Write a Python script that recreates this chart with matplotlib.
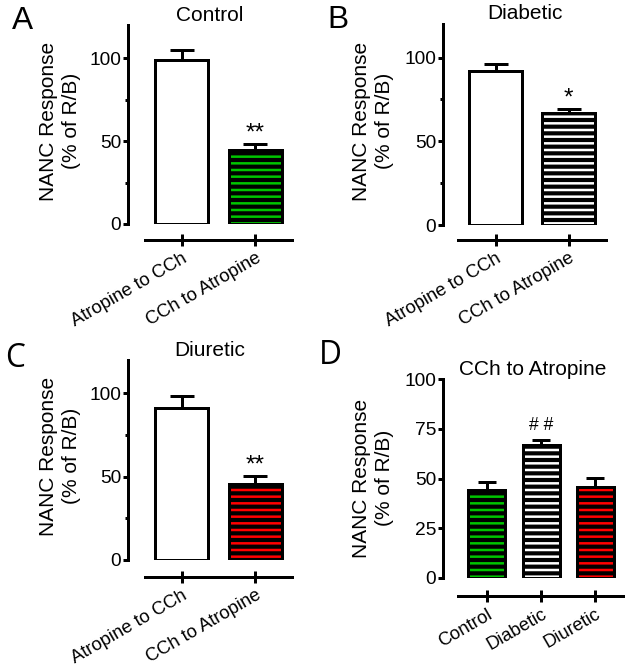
import matplotlib
matplotlib.use("Agg")
import matplotlib.pyplot as plt
from matplotlib.ticker import FixedLocator

# ---------------- data ----------------
groups_ab = ["Atropine to CCh", "CCh to Atropine"]
control_vals = [98.8, 44.4]
control_err = [6.2, 4.0]
diabetic_vals = [91.8, 66.7]
diabetic_err = [4.6, 2.6]
diuretic_vals = [91.0, 45.7]
diuretic_err = [7.4, 4.5]

groups_d = ["Control", "Diabetic", "Diuretic"]
d_vals = [44.4, 66.7, 45.7]
d_err = [4.0, 2.6, 4.5]

titles = ["Control", "Diabetic", "Diuretic", "CCh to Atropine"]
letters = ["A", "B", "C", "D"]
sig_a, sig_b, sig_c = "**", "*", "**"
sig_d = ["", "# #", ""]

GREEN = "#00c400"
RED = "#ff0000"
WHITE = "#ffffff"

# ---------------- style ----------------
DPI = 120
W, H = 629, 668
plt.rcParams["font.family"] = ["Liberation Sans", "DejaVu Sans"]
plt.rcParams["hatch.linewidth"] = 1.5
LW = 1.8

fig = plt.figure(figsize=(W / DPI, H / DPI), dpi=DPI)


def ax_at(left, top, right, bottom):
    return fig.add_axes([left / W, 1 - bottom / H, (right - left) / W, (bottom - top) / H])


def style(ax, xlim, xb, ylim, majors, minors, out_pt):
    ax.set_xlim(*xlim)
    ax.set_ylim(*ylim)
    for s in ("top", "right"):
        ax.spines[s].set_visible(False)
    ax.spines["left"].set_linewidth(LW)
    ax.spines["bottom"].set_linewidth(LW)
    ax.spines["bottom"].set_position(("outward", out_pt))
    ax.spines["bottom"].set_bounds(*xb)
    ax.spines["left"].set_bounds(*ylim)
    ax.yaxis.set_major_locator(FixedLocator(majors))
    ax.yaxis.set_minor_locator(FixedLocator(minors))
    ax.tick_params(axis="y", which="major", length=3.2, width=LW, pad=1.0, labelsize=11.5)
    ax.tick_params(axis="y", which="minor", length=2.0, width=LW)
    ax.tick_params(axis="x", direction="inout", length=7, width=LW, pad=2.5, labelsize=11)
    ax.patch.set_alpha(0)


def draw_bars(ax, labels, vals, errs, fills, width, capsize):
    xs = list(range(len(vals)))
    for x, v, f in zip(xs, vals, fills):
        if f is None:
            ax.bar(x, v, width=width, facecolor="white", edgecolor="black", linewidth=LW, zorder=2)
        else:
            ax.bar(x, v, width=width, facecolor="black", edgecolor=f, hatch="---", linewidth=0, zorder=2)
            ax.bar(x, v, width=width, facecolor="none", edgecolor="black", linewidth=LW, zorder=3)
    ax.errorbar(xs, vals, yerr=[[0] * len(errs), errs], fmt="none", ecolor="black",
                elinewidth=LW, capsize=capsize, capthick=LW, zorder=1)
    ax.set_xticks(xs)
    ax.set_xticklabels(labels, rotation=30, ha="right", rotation_mode="anchor")
    return xs


def ylabel(x, y):
    fig.text(x / W, 1 - y / H, "NANC Response\n(% of R/B)", rotation=90, ha="center",
             va="center", multialignment="center", fontsize=12.5, linespacing=1.25)


# Panel A
axA = ax_at(128, 25, 292, 224)
style(axA, (-0.73, 1.5), (-0.5, 1.5), (0, 120), [0, 50, 100], [25, 75], 9.6)
draw_bars(axA, groups_ab, control_vals, control_err, [None, GREEN], 0.72, 7)
axA.annotate(sig_a, (1, control_vals[1] + control_err[1]), xytext=(0, 2.6),
             textcoords="offset points", ha="center", va="baseline", fontsize=14.5)
axA.set_title(titles[0], fontsize=12.5, pad=2.6)
ylabel(60, 121)

# Panel B
axB = ax_at(443, 24, 606, 225)
style(axB, (-0.72, 1.51), (-0.51, 1.51), (0, 120), [0, 50, 100], [25, 75], 9.0)
draw_bars(axB, groups_ab, diabetic_vals, diabetic_err, [None, WHITE], 0.72, 7)
axB.annotate(sig_b, (1, diabetic_vals[1] + diabetic_err[1]), xytext=(0, 2.6),
             textcoords="offset points", ha="center", va="baseline", fontsize=14.5)
axB.set_title(titles[1], fontsize=12.5, pad=3.2)
ylabel(373, 121)

# Panel C
axC = ax_at(128, 360, 292, 560)
style(axC, (-0.73, 1.5), (-0.5, 1.5), (0, 120), [0, 50, 100], [25, 75], 10.2)
draw_bars(axC, groups_ab, diuretic_vals, diuretic_err, [None, RED], 0.72, 7)
axC.annotate(sig_c, (1, diuretic_vals[1] + diuretic_err[1]), xytext=(0, 2.6),
             textcoords="offset points", ha="center", va="baseline", fontsize=14.5)
axC.set_title(titles[2], fontsize=12.5, pad=1.4)
ylabel(60, 456)

# Panel D
axD = ax_at(443, 379, 623, 578)
style(axD, (-0.81, 2.51), (-0.53, 2.51), (0, 100), [0, 25, 50, 75, 100], [], 10.8)
draw_bars(axD, groups_d, d_vals, d_err, [GREEN, WHITE, RED], 0.68, 5.6)
for i, s in enumerate(sig_d):
    if s:
        axD.annotate(s, (i, d_vals[i] + d_err[i]), xytext=(0, 6),
                     textcoords="offset points", ha="center", va="baseline", fontsize=10.5)
axD.set_title(titles[3], fontsize=12.5, pad=1.4)
ylabel(373, 478)

# Panel letters
for (x, y, fam), t in zip([(12, 29, "Liberation Sans"), (327, 28, "Liberation Sans"),
                           (5, 367, "Open Sans"), (319, 364, "Open Sans")], letters):
    fig.text(x / W, 1 - y / H, t, fontsize=19, family=fam, ha="left", va="baseline")

fig.savefig("out.png", dpi=DPI)
